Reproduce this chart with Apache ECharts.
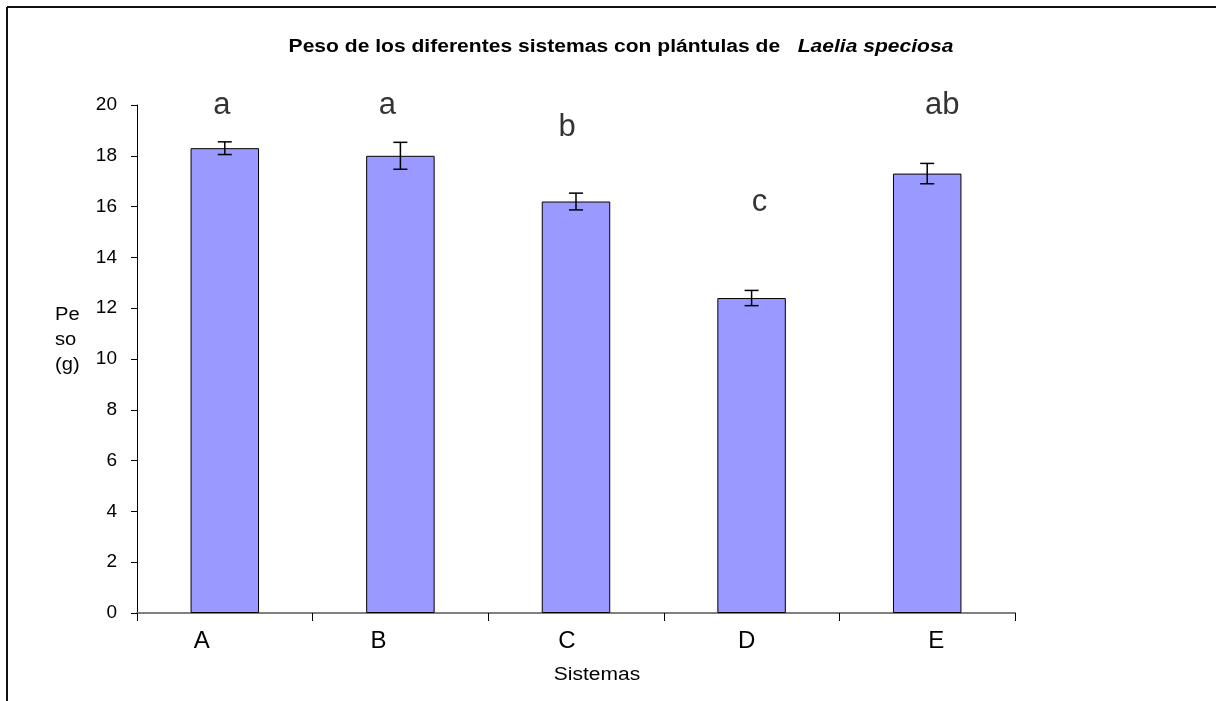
<!DOCTYPE html>
<html>
<head>
<meta charset="utf-8">
<script src="https://cdn.jsdelivr.net/npm/echarts@6/dist/echarts.min.js"></script>
<style>
  html, body { margin: 0; padding: 0; background: #fff; }
  #chart { width: 1216px; height: 701px; }
</style>
</head>
<body>
<div id="chart"></div>
<script>
// Weight of each growing system (g), with standard error
const sistemas = ['A', 'B', 'C', 'D', 'E'];
const peso = [18.3, 18.0, 16.2, 12.4, 17.3];
const errorEst = [0.25, 0.53, 0.33, 0.3, 0.4];
// Significance groups and the height (in g) at which each letter sits
const letras = ['a', 'a', 'b', 'c', 'ab'];
const alturaLetra = [20.0, 20.0, 19.1, 16.15, 20.0];
const yTicks = [0, 2, 4, 6, 8, 10, 12, 14, 16, 18, 20];

// Horizontal nudges (px) for the category names and the group letters
const desplCategoria = [-23, -22, -9, -5, 9];
const desplLetra = [-3, -13, -9, 8, 15];

const FONT = '"Liberation Sans", Arial, sans-serif';
const STRETCH = 1.17;

const chart = echarts.init(document.getElementById('chart'), null, { renderer: 'canvas' });

const errData = sistemas.map((s, i) => [i, peso[i] - errorEst[i], peso[i] + errorEst[i]]);
const letraData = sistemas.map((s, i) => ({
  value: [i, alturaLetra[i]],
  label: { formatter: letras[i], offset: [desplLetra[i], 0] }
}));

// one rich style per category so each name can be nudged sideways
const richCat = {};
sistemas.forEach((s, i) => {
  const d = desplCategoria[i];
  richCat['c' + i] = {
    fontFamily: FONT, fontSize: 24, color: '#000',
    padding: d < 0 ? [0, -2 * d, 0, 0] : [0, 0, 0, 2 * d]
  };
});

chart.setOption({
  animation: false,
  backgroundColor: '#fff',
  grid: { left: 137, right: 201, top: 105, bottom: 88, containLabel: false },
  xAxis: {
    type: 'category',
    data: sistemas,
    axisLine: { lineStyle: { color: '#808080', width: 2 } },
    axisTick: { show: true, length: 8, lineStyle: { color: '#000', width: 1 } },
    axisLabel: {
      margin: 16,
      formatter: (v, i) => '{c' + i + '|' + v + '}',
      rich: richCat
    },
    splitLine: { show: false }
  },
  yAxis: {
    type: 'value',
    min: 0,
    max: 20,
    interval: 2,
    axisLine: { show: true, lineStyle: { color: '#000', width: 1 } },
    axisTick: { show: true, length: 6, lineStyle: { color: '#000' } },
    axisLabel: { fontFamily: FONT, fontSize: 19, color: '#000', margin: 20,
      formatter: v => yTicks.includes(v) ? String(v) : '' },
    splitLine: { show: false }
  },
  graphic: [
    { type: 'line', shape: { x1: 7, y1: 7, x2: 1216, y2: 7 }, style: { stroke: '#111', lineWidth: 2 } },
    { type: 'line', shape: { x1: 7, y1: 7, x2: 7, y2: 701 }, style: { stroke: '#111', lineWidth: 2 } },
    // chart title
    { type: 'text', x: 621, y: 47, scaleX: STRETCH,
      style: {
        text: '{n|Peso de los diferentes sistemas con plántulas de   }{i|Laelia speciosa}',
        textAlign: 'center', textVerticalAlign: 'middle',
        rich: {
          n: { fontFamily: FONT, fontWeight: 'bold', fontSize: 18, fill: '#000' },
          i: { fontFamily: FONT, fontWeight: 'bold', fontStyle: 'italic', fontSize: 18, fill: '#000' }
        }
      } },
    // x-axis title
    { type: 'text', x: 597, y: 675, scaleX: 1.2,
      style: { text: 'Sistemas', fontFamily: FONT, fontSize: 17.5, fill: '#000',
        textAlign: 'center', textVerticalAlign: 'middle' } },
    // y-axis title, broken over three lines
    { type: 'text', x: 55, y: 303, scaleX: 1.12,
      style: { text: 'Pe\nso\n(g)', fontFamily: FONT, fontSize: 18, lineHeight: 25, fill: '#000' } }
  ],
  series: [
    {
      type: 'bar',
      data: peso,
      barWidth: '39%',
      itemStyle: { color: '#9999FF', borderColor: '#000', borderWidth: 1 },
      z: 2
    },
    {
      type: 'custom',
      data: errData,
      z: 3,
      renderItem: function (params, api) {
        const x = api.value(0);
        const lo = api.coord([x, api.value(1)]);
        const hi = api.coord([x, api.value(2)]);
        const w = 7;
        const st = { stroke: '#000', lineWidth: 1.5 };
        return {
          type: 'group',
          children: [
            { type: 'line', shape: { x1: hi[0], y1: hi[1], x2: lo[0], y2: lo[1] }, style: st },
            { type: 'line', shape: { x1: hi[0] - w, y1: hi[1], x2: hi[0] + w, y2: hi[1] }, style: st },
            { type: 'line', shape: { x1: lo[0] - w, y1: lo[1], x2: lo[0] + w, y2: lo[1] }, style: st }
          ]
        };
      }
    },
    {
      type: 'scatter',
      data: letraData,
      symbolSize: 0,
      z: 4,
      label: {
        show: true,
        position: 'inside',
        fontFamily: FONT,
        fontSize: 31,
        color: '#000'
      }
    }
  ]
});
</script>
</body>
</html>
